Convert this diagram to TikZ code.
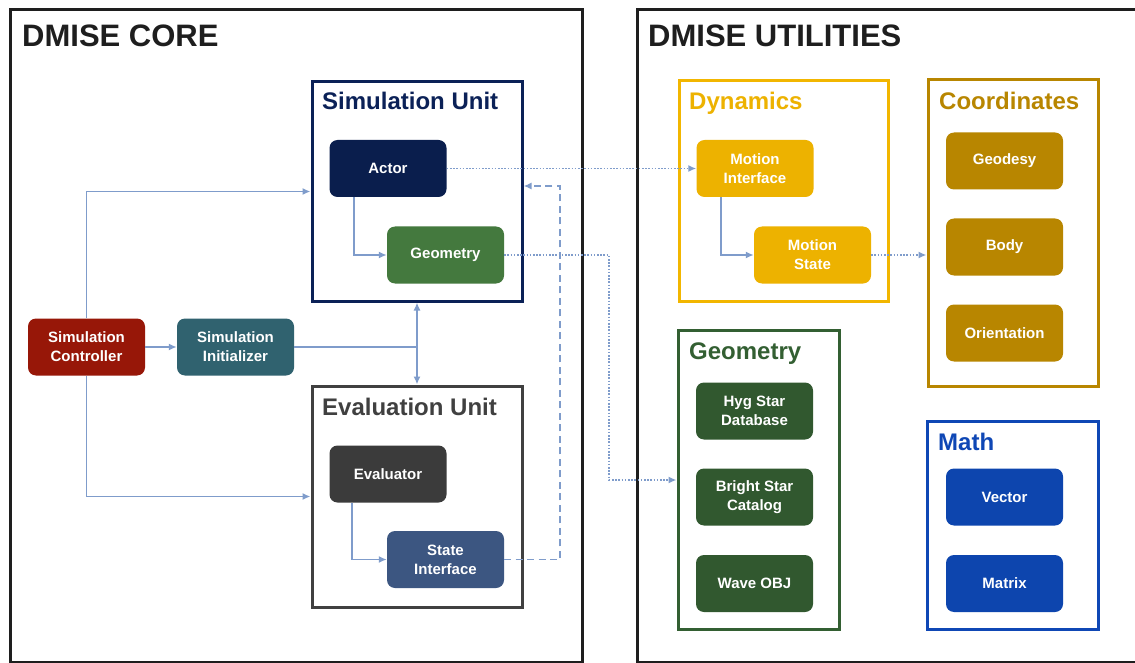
\documentclass[tikz,border=0pt]{standalone}
\usepackage{fontspec}
\setmainfont{Liberation Sans}
\usetikzlibrary{arrows.meta,calc}
\definecolor{conn}{HTML}{7F9CCB}
\definecolor{navy}{HTML}{0B2157}
\definecolor{actorc}{HTML}{0A1E4D}
\definecolor{evalb}{HTML}{404040}
\definecolor{evalc}{HTML}{3B3B3B}
\definecolor{statec}{HTML}{3C5681}
\definecolor{geoc}{HTML}{44793E}
\definecolor{ctrlc}{HTML}{971708}
\definecolor{initc}{HTML}{30626F}
\definecolor{dyn}{HTML}{F2B600}
\definecolor{dync}{HTML}{EDB200}
\definecolor{coordc}{HTML}{B88600}
\definecolor{ggrp}{HTML}{335F32}
\definecolor{gnode}{HTML}{31582F}
\definecolor{mathc}{HTML}{0F47B5}
\definecolor{mnode}{HTML}{0D45AE}
\definecolor{outer}{HTML}{1E1E1E}
\tikzset{
  comp/.style={rounded corners=8pt, minimum width=117pt, minimum height=57pt,
    text=white, align=center, inner sep=0pt,
    font=\fontsize{15}{19}\selectfont\bfseries},
  grpbox/.style={line width=3pt, minimum width=#1, inner sep=0pt},
  grptitle/.style={anchor=base west, inner sep=0pt, font=\fontsize{24}{27}\selectfont\bfseries},
  maintitle/.style={anchor=base west, inner sep=0pt, text=outer, font=\fontsize{31}{34}\selectfont\bfseries},
  conn/.style={draw=conn, line width=1.8pt},
  arr/.style={-{Latex[length=8pt,width=7pt]}},
  dotline/.style={dash pattern=on 1.6pt off 1.6pt},
  dashline/.style={dash pattern=on 7pt off 4.5pt},
}
\begin{document}
\begin{tikzpicture}[x=1pt,y=-1pt]
\useasboundingbox (0,0) rectangle (1135,663);
\fill[white] (0,0) rectangle (1135,663);

% outer boxes
\node[draw=outer, line width=3pt, minimum width=572pt, minimum height=652pt, inner sep=0pt] (core) at (296,336) {};
\draw[outer, line width=3pt] (1145,662) -- (637,662) -- (637,10) -- (1145,10);
\node[maintitle] (coret) at (22,47) {DMISE CORE};
\node[maintitle] (utilt) at (648,47) {DMISE UTILITIES};

% group boxes
\node[draw=navy, grpbox=210pt, minimum height=219pt] (su) at (417,191.5) {};
\node[grptitle, text=navy] (sut) at (322,110) {Simulation Unit};
\node[draw=evalb, grpbox=210pt, minimum height=221pt] (eu) at (417,496.5) {};
\node[grptitle, text=evalb] (eut) at (322,415) {Evaluation Unit};
\node[draw=dyn, grpbox=209pt, minimum height=220pt] (dy) at (783.5,191) {};
\node[grptitle, text=dync] (dyt) at (689,110) {Dynamics};
\node[draw=coordc, grpbox=170pt, minimum height=306pt] (co) at (1013,233) {};
\node[grptitle, text=coordc] (cot) at (939,110) {Coordinates};
\node[draw=ggrp, grpbox=161pt, minimum height=299pt] (gg) at (758.5,479.5) {};
\node[grptitle, text=ggrp] (ggt) at (689,359) {Geometry};
\node[draw=mathc, grpbox=171pt, minimum height=208pt] (ma) at (1012.5,525) {};
\node[grptitle, text=mathc] (mat) at (938,450) {Math};

% components
\node[comp, fill=actorc] (actor) at (388,168.5) {Actor};
\node[comp, fill=geoc] (geo) at (445.5,255) {Geometry};
\node[comp, fill=evalc] (eval) at (388,474) {Evaluator};
\node[comp, fill=statec] (state) at (445.5,559.5) {State\\Interface};
\node[comp, fill=ctrlc] (ctrl) at (86.5,347) {Simulation\\Controller};
\node[comp, fill=initc] (init) at (235.5,347) {Simulation\\Initializer};
\node[comp, fill=dync] (mi) at (755,168.5) {Motion\\Interface};
\node[comp, fill=dync] (ms) at (812.5,255) {Motion\\State};
\node[comp, fill=coordc] (geod) at (1004.5,161) {Geodesy};
\node[comp, fill=coordc] (body) at (1004.5,247) {Body};
\node[comp, fill=coordc] (orient) at (1004.5,333) {Orientation};
\node[comp, fill=gnode] (hyg) at (754.5,411) {Hyg Star\\Database};
\node[comp, fill=gnode] (bright) at (754.5,497) {Bright Star\\Catalog};
\node[comp, fill=gnode] (wave) at (754.5,583.5) {Wave OBJ};
\node[comp, fill=mnode] (vec) at (1004.5,497) {Vector};
\node[comp, fill=mnode] (mtx) at (1004.5,583.5) {Matrix};

% connectors
\draw[conn, arr] (ctrl.north) |- (su.west);
\draw[conn, arr] (ctrl.south) |- (eu.west);
\draw[conn, arr] (ctrl.east) -- (init.west);
\coordinate (j) at (su.south |- init.east);
\draw[conn] (init.east) -- (j);
\draw[conn, arr] (j) -- (su.south);
\draw[conn, arr] (j) -- (eu.north);
\draw[conn, arr] ([xshift=25pt]actor.south west) |- (geo.west);
\draw[conn, arr] ([xshift=23pt]eval.south west) |- (state.west);
\draw[conn, arr] ([xshift=25pt]mi.south west) |- (ms.west);

\coordinate (d1) at (560,186);
\draw[conn, dashline, arr] (state.east) -| (d1) -- (d1 -| su.east);

\draw[conn, dotline, arr] (actor.east) -- (mi.west);
\coordinate (g1) at (609,480);
\draw[conn, dotline, arr] (geo.east) -| (g1) -- (g1 -| gg.west);
\draw[conn, dotline, arr] (ms.east) -- (ms.east -| co.west);
\end{tikzpicture}
\end{document}
